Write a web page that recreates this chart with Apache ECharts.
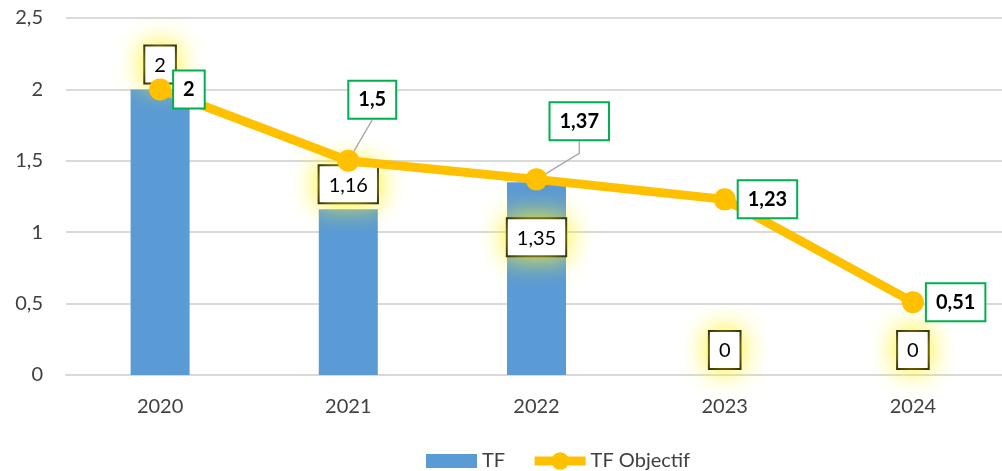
<!DOCTYPE html>
<html>
<head>
<meta charset="utf-8">
<script src="https://cdn.jsdelivr.net/npm/echarts@6/dist/echarts.min.js"></script>
<style>
html,body{margin:0;padding:0;background:#fff;overflow:hidden;}
#chart{width:1012px;height:471px;}
</style>
</head>
<body>
<div id="chart"></div>
<script>
const categories = ['2020', '2021', '2022', '2023', '2024'];
const tfValues = [2, 1.16, 1.35, 0, 0];
const objectifValues = [2, 1.5, 1.37, 1.23, 0.51];
const yTicks = [0, 0.5, 1, 1.5, 2, 2.5];

const FONT = 'Lato, "Open Sans", sans-serif';
const FS = 20;
const fmt = v => String(v).replace('.', ',');

const guide = { color: '#A6A6A6', width: 1.3 };
const barData = tfValues.map((v, i) => i === 2
  ? { value: v, label: { position: 'insideTop', distance: 37 } }
  : v);
const lineData = objectifValues.map((v, i) => {
  if (i === 1) return { value: v, labelLine: { show: true, lineStyle: guide } };
  if (i === 2) return { value: v, labelLine: { show: true, length2: 12, lineStyle: guide } };
  return v;
});

const chart = echarts.init(document.getElementById('chart'));
chart.setOption({
  animation: false,
  textStyle: { fontFamily: FONT },
  grid: { left: 66, top: 18, width: 941, height: 357, containLabel: false },
  legend: {
    left: 421, top: 445,
    itemWidth: 51, itemHeight: 22, itemGap: 25,
    textStyle: { fontSize: FS, color: '#404040', fontFamily: FONT },
    data: [
      { name: 'TF', icon: 'path://M0,0M0,4L51,4L51,18L0,18ZM51,22' },
      { name: 'TF Objectif', lineStyle: { width: 9, color: '#FFC000' }, itemStyle: { color: '#FFC000' } }
    ]
  },
  xAxis: {
    type: 'category',
    data: categories,
    axisTick: { show: false },
    axisLine: { lineStyle: { color: '#D9D9D9', width: 2 } },
    axisLabel: { fontSize: FS, color: '#404040', margin: 22, fontFamily: FONT }
  },
  yAxis: {
    type: 'value',
    min: yTicks[0], max: yTicks[yTicks.length - 1], interval: 0.5,
    axisLine: { show: false },
    axisTick: { show: false },
    splitLine: { lineStyle: { color: '#D9D9D9', width: 2 } },
    axisLabel: { fontSize: FS, color: '#404040', margin: 23, fontFamily: FONT, formatter: fmt }
  },
  series: [
    {
      name: 'TF',
      type: 'bar',
      data: barData,
      barWidth: 59,
      itemStyle: { color: '#5B9BD5' },
      label: {
        show: true,
        position: 'top',
        distance: 7,
        formatter: p => fmt(p.value),
        fontSize: FS,
        color: '#000',
        fontFamily: FONT,
        backgroundColor: '#fff',
        borderColor: '#000',
        borderWidth: 2,
        padding: [9, 9, 7, 9],
        shadowColor: 'rgba(255,240,40,1)',
        shadowBlur: 26
      },
      z: 2
    },
    {
      name: 'TF Objectif',
      type: 'line',
      data: lineData,
      symbol: 'circle',
      symbolSize: 22,
      lineStyle: { color: '#FFC000', width: 9 },
      itemStyle: { color: '#FFC000' },
      label: {
        show: true,
        position: 'right',
        distance: 3,
        formatter: p => fmt(p.value),
        fontSize: FS,
        fontWeight: 'bold',
        color: '#000',
        fontFamily: FONT,
        backgroundColor: '#fff',
        borderColor: '#00B050',
        borderWidth: 2,
        padding: [9, 9, 7, 9]
      },
      labelLayout: function (p) {
        if (p.dataIndex === 1) return { dx: -13, dy: -61 };
        if (p.dataIndex === 2) return { dx: 0, dy: -58 };
        return {};
      },
      z: 3
    }
  ]
});
</script>
</body>
</html>
